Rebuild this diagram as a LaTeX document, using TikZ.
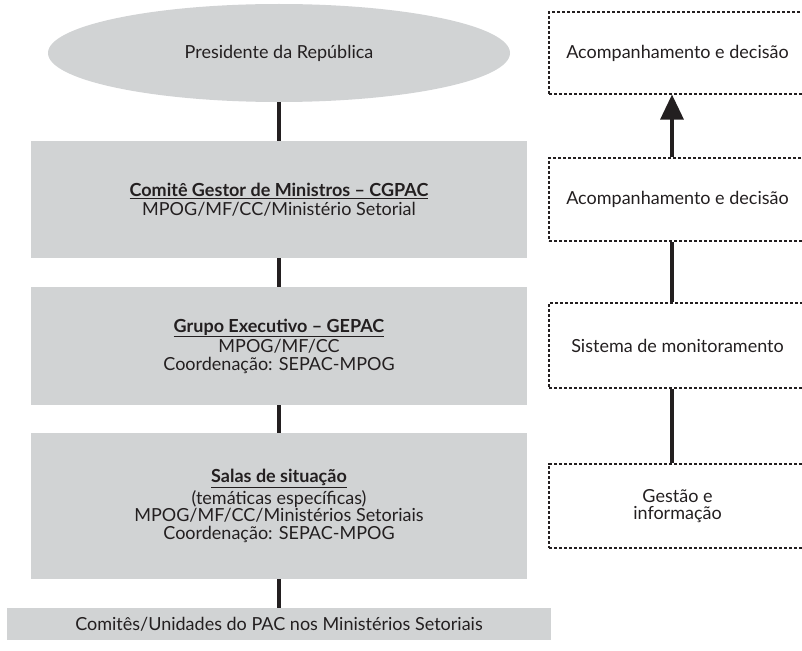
\documentclass[tikz,border=0pt]{standalone}
\usepackage{fontspec}
\setmainfont{Lato}
\usetikzlibrary{arrows.meta,shapes.geometric}
\definecolor{boxgray}{RGB}{209,211,212}
\definecolor{ink}{RGB}{35,31,32}
\begin{document}
\begin{tikzpicture}[x=1pt,y=-1pt,
  every node/.style={text=ink,font=\fontsize{18}{17.4}\selectfont,align=center,inner sep=0pt},
  graybox/.style={rectangle,fill=boxgray,draw=none},
  dashbox/.style={rectangle,draw=ink,line width=1.1pt,dash pattern=on 3.2pt off 1.8pt,fill=none},
  link/.style={draw=ink,line width=3.2pt},
  uparrow/.style={draw=ink,line width=3.2pt,-{Triangle[length=25pt,width=23pt]}}]
\useasboundingbox (0,0) rectangle (802,650);
% left column
\node[ellipse,fill=boxgray,minimum width=462pt,minimum height=98pt] (pres) at (279,53) {Presidente da República};
\node[graybox,minimum width=496pt,minimum height=117pt] (cg) at (279,199.5)
  {\textbf{\underline{Comitê Gestor de Ministros – CGPAC}}\\[1.5pt]MPOG/MF/CC/Ministério Setorial};
\node[graybox,minimum width=496pt,minimum height=118pt] (ge) at (279,346)
  {\textbf{\underline{Grupo Executivo – GEPAC}}\\[1.5pt]MPOG/MF/CC\\Coordenação: SEPAC-MPOG};
\node[graybox,minimum width=496pt,minimum height=146pt] (sa) at (279,506)
  {\textbf{\underline{Salas de situação}}\\[1.5pt](temáticas específicas)\\MPOG/MF/CC/Ministérios Setoriais\\Coordenação: SEPAC-MPOG};
\node[graybox,minimum width=544pt,minimum height=32pt] (co) at (279,624)
  {Comitês/Unidades do PAC nos Ministérios Setoriais};
\draw[link] (pres.south) -- (cg.north);
\draw[link] (cg.south) -- (ge.north);
\draw[link] (ge.south) -- (sa.north);
\draw[link] (sa.south) -- (co.north);
% right column
\node[dashbox,minimum width=257pt,minimum height=82pt] (r1) at (677.5,53) {Acompanhamento e decisão};
\node[dashbox,minimum width=257pt,minimum height=83pt] (r2) at (677.5,199.5) {Acompanhamento e decisão};
\node[dashbox,minimum width=257pt,minimum height=85pt] (r3) at (677.5,345.5) {Sistema de monitoramento};
\node[dashbox,minimum width=257pt,minimum height=84pt] (r4) at (677.5,506) {Gestão e\\informação};
\coordinate (ax) at (672,0);
\draw[link] (r4.north -| ax) -- (r3.south -| ax);
\draw[link] (r3.north -| ax) -- (r2.south -| ax);
\draw[uparrow] (r2.north -| ax) -- (r1.south -| ax);
\end{tikzpicture}
\end{document}
